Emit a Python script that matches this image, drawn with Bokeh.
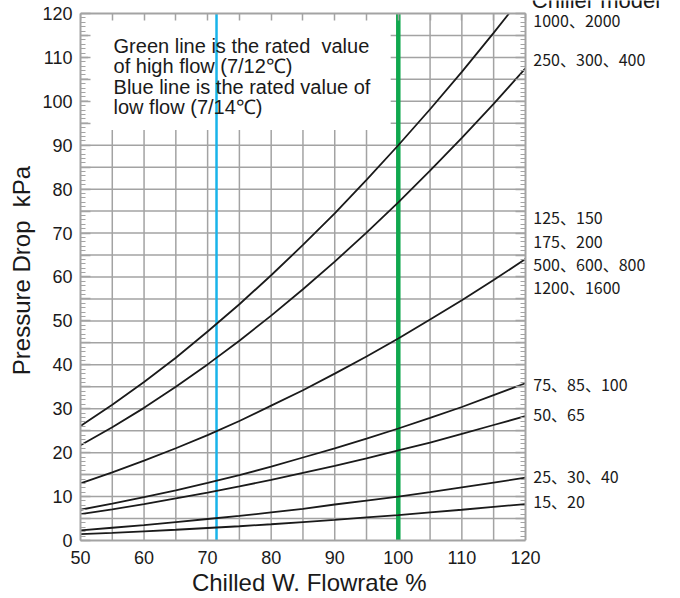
from bokeh.plotting import figure
from bokeh.models import Range1d, LinearAxis, FixedTicker, SingleIntervalTicker
from bokeh.core.properties import value
from bokeh.embed import file_html
from bokeh.resources import INLINE

# ---- data ----
flow = [50, 55, 60, 65, 70, 75, 80, 85, 90, 95, 100, 105, 110, 115, 120]
dp_1000_2000 = [26.1, 30.9, 36.1, 41.6, 47.6, 53.8, 60.4, 67.3, 74.5, 82.1, 90.0, 98.2, 106.7, 115.6, 124.7]
dp_250_400 = [21.7, 25.8, 30.2, 35.0, 40.1, 45.5, 51.2, 57.2, 63.5, 70.1, 77.0, 84.2, 91.7, 99.4, 107.5]
dp_125_1600 = [13.0, 15.5, 18.2, 21.0, 24.0, 27.2, 30.7, 34.2, 38.0, 41.9, 46.0, 50.3, 54.7, 59.3, 64.1]
dp_75_100 = [7.0, 8.4, 9.9, 11.4, 13.1, 14.9, 16.8, 18.9, 21.0, 23.2, 25.5, 27.9, 30.4, 33.1, 35.8]
dp_50_65 = [6.0, 7.1, 8.3, 9.6, 10.9, 12.3, 13.8, 15.4, 17.0, 18.7, 20.5, 22.3, 24.3, 26.3, 28.3]
dp_25_40 = [2.3, 2.9, 3.5, 4.2, 4.9, 5.6, 6.4, 7.2, 8.2, 9.1, 10.0, 11.0, 12.1, 13.2, 14.3]
dp_15_20 = [1.45, 1.75, 2.1, 2.45, 2.85, 3.25, 3.7, 4.2, 4.7, 5.25, 5.8, 6.4, 7.0, 7.65, 8.3]
series = [dp_1000_2000, dp_250_400, dp_125_1600, dp_75_100, dp_50_65, dp_25_40, dp_15_20]

model_labels = ["1000、2000", "250、300、400", "125、150", "175、200", "500、600、800",
                "1200、1600", "75、85、100", "50、65", "25、30、40", "15、20"]
model_label_y = [118.5, 109.6, 73.7, 68.2, 63.0, 57.8, 35.7, 28.9, 14.6, 9.1]

rated_high_flow = 100.0   # green line (7/12℃)
rated_low_flow = 71.4     # blue line (7/14℃)

note_lines = ["Green line is the rated\u00a0 value", "of high flow (7/12℃)",
              "Blue line is the rated value of", "low flow (7/14℃)"]

x_title = "Chilled W. Flowrate %"
y_title = "Pressure Drop\u00a0 kPa"
legend_title = "Chiller model"

X_MIN, X_MAX = 50, 120
Y_MIN, Y_MAX = 0, 120

# ---- style / layout ----
GRAY = "#a3a3a3"
INK = "#1a1a1a"
SANS = "Liberation Sans"
X_VIEW_END = 144.4   # frame extends to the right edge of the canvas
Y_VIEW_END = 122.96  # frame extends to the top edge of the canvas
X_TITLE_AT = 86      # where the x title is centred

p = figure(width=680, height=598, x_range=Range1d(X_MIN, X_VIEW_END), y_range=Range1d(Y_MIN, Y_VIEW_END),
           output_backend="svg", toolbar_location=None,
           min_border_left=80, min_border_right=0, min_border_top=0, min_border_bottom=58,
           background_fill_color="white", border_fill_color="white")
p.outline_line_color = None
p.xgrid.visible = False
p.ygrid.visible = False

# grid lines every 5 units, limited to the chart box
grid_x = list(range(X_MIN + 5, X_MAX, 5))
grid_y = list(range(Y_MIN + 5, Y_MAX, 5))
p.segment(x0=grid_x, y0=[Y_MIN] * len(grid_x), x1=grid_x, y1=[Y_MAX] * len(grid_x),
          line_color=GRAY, line_width=1.5)
p.segment(x0=[X_MIN] * len(grid_y), y0=grid_y, x1=[X_MAX] * len(grid_y), y1=grid_y,
          line_color=GRAY, line_width=1.5)

# white note box hiding the grid
p.quad(left=[51.2], right=[98.8], bottom=[93.5], top=[Y_MAX], fill_color="white", line_color=None)

# rated flow lines
p.segment(x0=[rated_low_flow], y0=[Y_MIN], x1=[rated_low_flow], y1=[Y_MAX],
          line_color="#18b4ea", line_width=2.5)
p.segment(x0=[rated_high_flow], y0=[Y_MIN], x1=[rated_high_flow], y1=[Y_MAX],
          line_color="#10a84e", line_width=4.5)

# curves (cut where they leave the top of the chart box)
for s in series:
    xs, ys = [], []
    for i, (fx, fy) in enumerate(zip(flow, s)):
        if fy <= Y_MAX:
            xs.append(fx); ys.append(fy)
        else:
            px, py = flow[i - 1], s[i - 1]
            xs.append(px + (fx - px) * (Y_MAX - py) / (fy - py)); ys.append(Y_MAX)
            break
    p.line(xs, ys, line_color=INK, line_width=1.8)

# bottom axis
xa = p.xaxis[0]
xa.bounds = (X_MIN, X_MAX)
xa.ticker = SingleIntervalTicker(interval=10, num_minor_ticks=0)
xa.major_tick_in = 0
xa.major_tick_out = 0
xa.minor_tick_in = 0
xa.minor_tick_out = 0
xa.axis_line_color = GRAY
xa.axis_line_width = 2
xa.major_label_text_font = SANS
xa.major_label_text_font_size = "18px"
xa.major_label_text_color = INK
xa.major_label_standoff = 10

# x title drawn as the single label of a second bottom axis, centred under the chart box
xt = LinearAxis(ticker=FixedTicker(ticks=[X_TITLE_AT], minor_ticks=[]),
                major_label_overrides={X_TITLE_AT: x_title},
                bounds=(X_MIN, X_MAX), axis_line_color=None,
                major_tick_in=0, major_tick_out=0, minor_tick_in=0, minor_tick_out=0,
                major_label_text_font=SANS, major_label_text_font_size="24px",
                major_label_text_color=INK, major_label_standoff=2)
p.add_layout(xt, "below")

# left axis
yticks = list(range(Y_MIN, Y_MAX + 1, 5))
yminor = list(range(Y_MIN, Y_MAX + 1, 1))
ya = p.yaxis[0]
ya.bounds = (Y_MIN, Y_MAX)
ya.ticker = FixedTicker(ticks=yticks, minor_ticks=yminor)
ya.major_label_overrides = {v: "" for v in range(5, 121, 10)}
ya.major_tick_in = 10
ya.major_tick_out = 0
ya.minor_tick_in = 5
ya.minor_tick_out = 0
ya.major_tick_line_color = GRAY
ya.minor_tick_line_color = GRAY
ya.major_tick_line_width = 1.5
ya.minor_tick_line_width = 1.2
ya.axis_line_color = GRAY
ya.axis_line_width = 2
ya.major_label_text_font = SANS
ya.major_label_text_font_size = "18px"
ya.major_label_text_color = INK
ya.major_label_standoff = 8
ya.axis_label = y_title
ya.axis_label_text_font = SANS
ya.axis_label_text_font_size = "24px"
ya.axis_label_text_font_style = "normal"
ya.axis_label_text_color = INK
ya.axis_label_standoff = 4

# right edge of the chart box (ticks only)
ra = LinearAxis(fixed_location=X_MAX, bounds=(Y_MIN, Y_MAX),
                ticker=FixedTicker(ticks=yticks, minor_ticks=yminor),
                major_tick_in=10, major_tick_out=0, minor_tick_in=5, minor_tick_out=0,
                major_tick_line_color=GRAY, minor_tick_line_color=GRAY,
                major_tick_line_width=1.5, minor_tick_line_width=1.2,
                axis_line_color=GRAY, axis_line_width=2,
                major_label_text_font_size="0px", major_label_standoff=0)
p.add_layout(ra, "right")

# top edge of the chart box (ticks only)
ta = LinearAxis(fixed_location=Y_MAX, bounds=(X_MIN, X_MAX),
                ticker=SingleIntervalTicker(interval=5, num_minor_ticks=0),
                major_tick_in=7, major_tick_out=0, minor_tick_in=0, minor_tick_out=0,
                major_tick_line_color=GRAY, major_tick_line_width=1.5,
                axis_line_color=GRAY, axis_line_width=2,
                major_label_text_font_size="0px", major_label_standoff=0)
p.add_layout(ta, "above")

# note text
p.text(x=[55.2] * len(note_lines), y=[112.6 - 4.62 * i for i in range(len(note_lines))],
       text=note_lines, text_font=value(SANS), text_font_size="20px",
       text_color=INK, text_baseline="middle", text_align="left")

# model labels at the right of the curves
p.text(x=[X_MAX + 1.25] * len(model_labels), y=model_label_y, text=model_labels,
       text_font=value("Noto Sans CJK KR"), text_font_size="16px", text_color=INK,
       text_baseline="middle", text_align="left")

# legend title, cut by the top edge of the page as in the reference
p.text(x=[X_MAX + 1.0], y=[Y_VIEW_END - 0.1], text=[legend_title], text_font=value(SANS),
       text_font_size="22px", text_color=INK, text_baseline="alphabetic", text_align="left")

open("out.html", "w").write(file_html(p, INLINE))
